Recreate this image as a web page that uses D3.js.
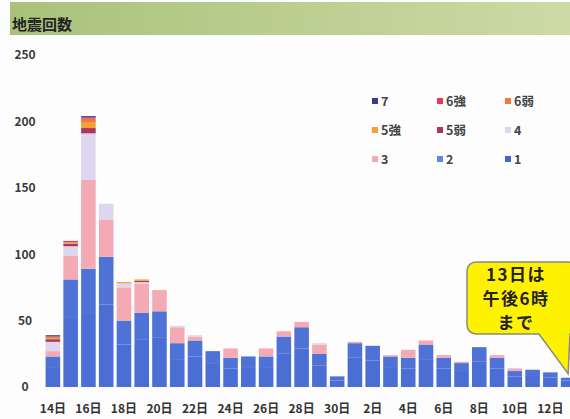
<!DOCTYPE html>
<html>
<head>
<meta charset="utf-8">
<script src="https://cdn.jsdelivr.net/npm/d3@7"></script>
<style>
  body { margin: 0; background: #fdfdfd; }
  text { font-family: "Noto Sans CJK JP", "Noto Sans", sans-serif; font-weight: 700; }
</style>
</head>
<body>
<script>
// days from Apr 14 to May 13
const days = ["14日","15日","16日","17日","18日","19日","20日","21日","22日","23日","24日","25日","26日","27日","28日","29日","30日",
  "1日","2日","3日","4日","5日","6日","7日","8日","9日","10日","11日","12日","13日"];
const tickDays = ["14日","16日","18日","20日","22日","24日","26日","28日","30日","2日","4日","6日","8日","10日","12日"];
const yTicks = [0, 50, 100, 150, 200, 250];

// counts per seismic intensity (bottom of stack first)
const int1  = [15,52,55,62,32,36,37,21,23,18,14,15,15,25,29,16,5,22,20,15,14,21,14,12,19,14,8,9,7,5];
const int2  = [8,29,34,36,18,20,20,12,12,9,8,8,8,13,16,9,3,11,11,8,8,11,8,6,11,8,4,4,4,2];
const int3  = [4,18,67,28,25,22,16,12,3,0,7,0,6,4,4,7,0,1,0,1,6,3,2,1,0,2,2,0,0,0];
const int4  = [7,7,35,12,3,1,0,1,1,0,0,0,0,0,0,1,0,0,0,0,0,0,0,0,0,0,0,0,0,0];
const int5l = [2,2,4,0,0,1,0,0,0,0,0,0,0,0,0,0,0,0,0,0,0,0,0,0,0,0,0,0,0,0];
const int5u = [1,1,4,0,1,1,0,0,0,0,0,0,0,0,0,0,0,0,0,0,0,0,0,0,0,0,0,0,0,0];
const int6l = [1,0,3,0,0,0,0,0,0,0,0,0,0,0,0,0,0,0,0,0,0,0,0,0,0,0,0,0,0,0];
const int6u = [0,1,1,0,0,0,0,0,0,0,0,0,0,0,0,0,0,0,0,0,0,0,0,0,0,0,0,0,0,0];
const int7  = [1,0,1,0,0,0,0,0,0,0,0,0,0,0,0,0,0,0,0,0,0,0,0,0,0,0,0,0,0,0];

const keys = ["1","2","3","4","5弱","5強","6弱","6強","7"];
const series = [int1, int2, int3, int4, int5l, int5u, int6l, int6u, int7];
const colors = ["#4a6ed3","#4e72d6","#f4aab4","#ddd6f0","#a8385f","#f6a030","#f07a3a","#e8365e","#3a3d8c"];
const legendColors = ["#3a3d8c","#e8365e","#f07a3a","#f6a030","#a8385f","#ddd6f0","#f4aab4","#6088e0","#4466c8"];
const legendOrder = ["7","6強","6弱","5強","5弱","4","3","2","1"];

const W = 570, H = 419;
const svg = d3.select("body").append("svg").attr("width", W).attr("height", H);

// green title band
const grad = svg.append("defs").append("linearGradient").attr("id", "band");
grad.append("stop").attr("offset", "0%").attr("stop-color", "#a9c27b");
grad.append("stop").attr("offset", "100%").attr("stop-color", "#cddaa6");
svg.append("rect").attr("x", 10).attr("y", 2).attr("width", W - 10).attr("height", 33).attr("fill", "url(#band)");
svg.append("text").attr("x", 12).attr("y", 30).attr("font-size", 15).attr("fill", "#222").text("地震回数");

// build the table for the stack
const table = days.map((d, i) => {
  const row = { day: d };
  keys.forEach((k, j) => row[k] = series[j][i]);
  return row;
});
const stacked = d3.stack().keys(keys)(table);

const x = d3.scaleBand().domain(days).range([44, 577]).paddingInner(0.18).paddingOuter(0.09);
const y = d3.scaleLinear().domain([0, 250]).range([387, 55]);
const color = d3.scaleOrdinal().domain(keys).range(colors);

svg.append("g").selectAll("g").data(stacked).join("g")
  .attr("fill", d => color(d.key))
  .selectAll("rect").data(d => d).join("rect")
  .attr("x", d => x(d.data.day))
  .attr("width", x.bandwidth())
  .attr("y", d => y(d[1]))
  .attr("height", d => y(d[0]) - y(d[1]));

// axes, no lines
const yAxis = svg.append("g").attr("transform", "translate(25,0)")
  .call(d3.axisLeft(y).tickValues(yTicks).tickSize(0).tickPadding(0));
yAxis.select(".domain").remove();
yAxis.selectAll("text").attr("text-anchor", "middle").attr("font-size", 12).attr("fill", "#3a3a3a")
  .style("font-family", "'Noto Sans CJK JP'").style("font-weight", 700);

const xAxis = svg.append("g").attr("transform", "translate(0,387)")
  .call(d3.axisBottom(x).tickValues(tickDays).tickSize(0).tickPadding(17));
xAxis.select(".domain").remove();
xAxis.selectAll("text").attr("font-size", 12).attr("fill", "#333")
  .style("font-family", "'Noto Sans CJK JP'").style("font-weight", 700);

// legend, 3 x 3
const lg = svg.append("g").selectAll("g").data(legendOrder).join("g")
  .attr("transform", (d, i) => `translate(${[372, 437, 505][i % 3]},${[101, 130, 159][Math.floor(i / 3)]})`);
lg.append("rect").attr("x", 0).attr("y", -3).attr("width", 6).attr("height", 6).attr("fill", (d, i) => legendColors[i]);
lg.append("text").attr("x", 9).attr("dy", "0.36em").attr("font-size", 12.5).attr("fill", "#444").text(d => d);

// callout bubble pointing at the last bar
const bx = 467, by = 262, bw = 110, bh = 72, r = 9;
const tipX = x("13日") + x.bandwidth() / 2, tipY = y(int1[29] + int2[29]) - 4;
const bubble = d3.path();
bubble.moveTo(bx + r, by);
bubble.lineTo(bx + bw - r, by);
bubble.arcTo(bx + bw, by, bx + bw, by + r, r);
bubble.lineTo(bx + bw, by + bh);
bubble.lineTo(bx + 103, by + bh);
bubble.lineTo(tipX, tipY);
bubble.lineTo(bx + 72, by + bh);
bubble.lineTo(bx + r, by + bh);
bubble.arcTo(bx, by + bh, bx, by + bh - r, r);
bubble.lineTo(bx, by + r);
bubble.arcTo(bx, by, bx + r, by, r);
bubble.closePath();
svg.append("path").attr("d", bubble.toString()).attr("fill", "#fff200").attr("stroke", "#8a8a7a").attr("stroke-width", 1.5);

const noteLines = ["13日は", "午後6時", "まで"];
svg.append("g").selectAll("text").data(noteLines).join("text")
  .attr("x", 516).attr("y", (d, i) => 281 + i * 24)
  .attr("text-anchor", "middle").attr("font-size", 17).attr("letter-spacing", 1.5)
  .attr("fill", "#222").text(d => d);
</script>
</body>
</html>
